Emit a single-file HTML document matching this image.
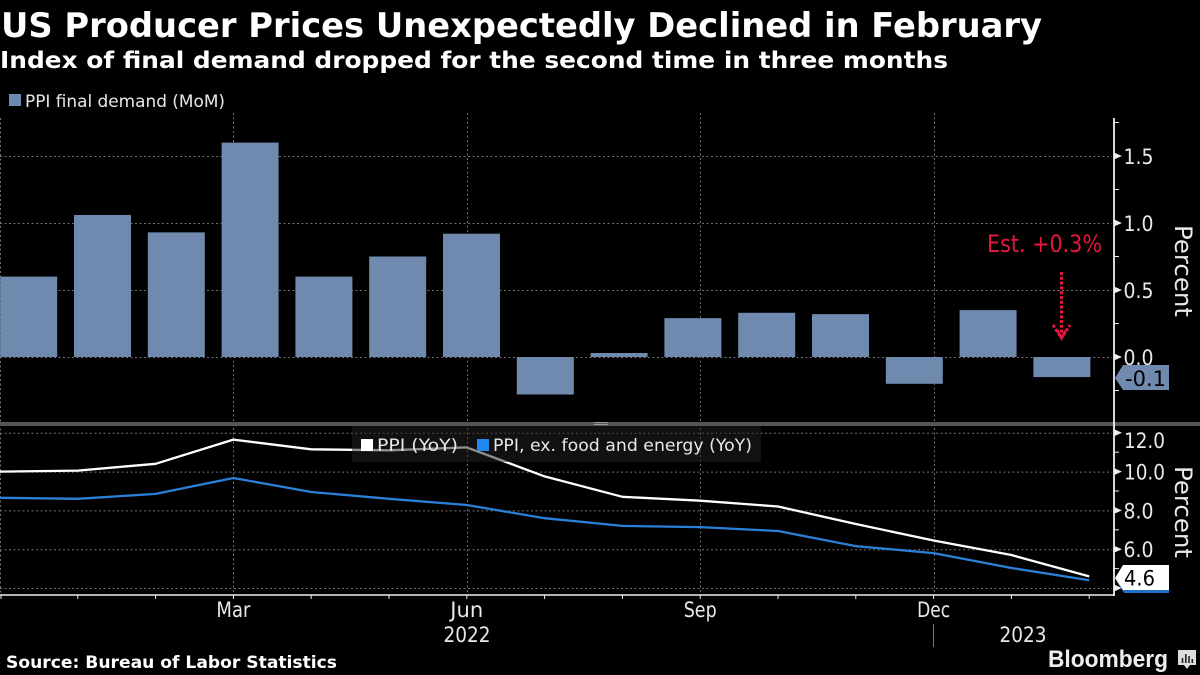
<!DOCTYPE html>
<html>
<head>
<meta charset="utf-8">
<style>
html,body{margin:0;padding:0;background:#000;width:1200px;height:675px;overflow:hidden}
svg{display:block}
text{font-family:"DejaVu Sans","Liberation Sans",sans-serif;fill:#e8e8e8}
</style>
</head>
<body>
<svg id="chart" width="1200" height="675" viewBox="0 0 1200 675" xmlns="http://www.w3.org/2000/svg">
<rect width="1200" height="675" fill="#000"/>
<text x="1" y="37" font-size="34" font-weight="700" style="fill:#fff" textLength="1041" lengthAdjust="spacingAndGlyphs">US Producer Prices Unexpectedly Declined in February</text>
<text x="0" y="68" font-size="23.5" font-weight="700" style="fill:#fff" textLength="948" lengthAdjust="spacingAndGlyphs">Index of final demand dropped for the second time in three months</text>
<rect x="9" y="94" width="12" height="12" fill="#7089ae"/>
<text x="25" y="107" font-size="16.5" textLength="200" lengthAdjust="spacingAndGlyphs">PPI final demand (MoM)</text>
<g id="grid"></g>
<g id="bars"></g>
<g id="lines"></g>
<rect x="0" y="422" width="1200" height="4" fill="#555"/>
<path d="M594 422.5H608M594 424.5H608" stroke="#999" stroke-width="1" fill="none"/>
<rect x="352" y="426" width="409" height="36" fill="rgba(34,34,34,.5)"/>
<rect x="361" y="439" width="12" height="12" fill="#fff"/>
<text x="377" y="451" font-size="16.5" textLength="81" lengthAdjust="spacingAndGlyphs">PPI (YoY)</text>
<rect x="477" y="439" width="12" height="12" fill="#1e88f0"/>
<text x="493" y="451" font-size="16.5" textLength="259" lengthAdjust="spacingAndGlyphs">PPI, ex. food and energy (YoY)</text>
<g id="axes"></g>
<text font-size="24" transform="translate(1175,225) rotate(90)" textLength="92" lengthAdjust="spacingAndGlyphs">Percent</text>
<text font-size="24" transform="translate(1175,466) rotate(90)" textLength="92" lengthAdjust="spacingAndGlyphs">Percent</text>
<path d="M1115 378L1123 365H1169V390H1123Z" fill="#7089ae"/>
<text x="1125" y="386" font-size="21" style="fill:#000" textLength="41" lengthAdjust="spacingAndGlyphs">-0.1</text>
<path d="M1115 579L1124 590H1169V593H1124Z" fill="#1e6fc8"/>
<path d="M1115 578L1123 565H1169V590H1123Z" fill="#fff"/>
<text x="1124" y="585.5" font-size="21" style="fill:#000" textLength="31" lengthAdjust="spacingAndGlyphs">4.6</text>
<text x="987" y="252" font-size="24" style="fill:#e5173f" textLength="115" lengthAdjust="spacingAndGlyphs">Est. +0.3%</text>
<path d="M1061.5 272V338M1053 325L1061.5 338L1070 325M1057 330L1061.5 338L1066 330" stroke="#e5173f" stroke-width="3" stroke-dasharray="3 1.8" fill="none"/>
<text x="6" y="668" font-size="16.5" font-weight="700" style="fill:#fff" textLength="331" lengthAdjust="spacingAndGlyphs">Source: Bureau of Labor Statistics</text>
<text x="1048" y="667" font-size="24" font-weight="700" style="font-family:'Liberation Sans',sans-serif;fill:#eee" textLength="120" lengthAdjust="spacingAndGlyphs">Bloomberg</text>
<g>
<path d="M1178 650H1196V665H1190L1187 669L1184 665H1178Z" fill="#ddd"/>
<path d="M1182.5 663V658M1185.8 663V654M1189 663V656M1192.3 663V659" stroke="#222" stroke-width="1.6" fill="none"/>
</g>
</svg>
<script>
const momCategories = ['Jan 22','Feb 22','Mar 22','Apr 22','May 22','Jun 22','Jul 22','Aug 22','Sep 22','Oct 22','Nov 22','Dec 22','Jan 23','Feb 23'];
const momValues = [0.6,1.06,0.93,1.6,0.6,0.75,0.92,-0.28,0.03,0.29,0.33,0.32,-0.2,0.35,-0.15];
const ppiYoY = [10.0,10.05,10.4,11.65,11.15,11.1,11.25,9.75,8.7,8.5,8.2,7.3,6.45,5.7,4.6];
const coreYoY = [8.65,8.6,8.85,9.67,8.95,8.6,8.28,7.6,7.2,7.14,6.94,6.16,5.8,5.03,4.4];
const topTicks = [0,0.5,1,1.5];
const topTickLabels = ['0.0','0.5','1.0','1.5'];
const bottomTicks = [6,8,10,12];
const bottomTickLabels = ['6.0','8.0','10.0','12.0'];
const monthLabels = ['Mar','Jun','Sep','Dec'];
const monthLabelIndexes = [3,6,9,12];
const yearLabels = ['2022','2023'];

const NS = 'http://www.w3.org/2000/svg';
const AXIS_X = 1114;
const barX = i => 28.7 + 73.8 * i;
const lineX = i => 77.8 * i;
const yTop = v => 357 - 134 * v;
const yBot = v => 588 - 19.4 * (v - 4);

function mk(parent, tag, attrs, text) {
  const el = document.createElementNS(NS, tag);
  for (const k in attrs) el.setAttribute(k, attrs[k]);
  if (text !== undefined) el.textContent = text;
  parent.appendChild(el);
  return el;
}
const grid = document.getElementById('grid');
const bars = document.getElementById('bars');
const lines = document.getElementById('lines');
const axes = document.getElementById('axes');
const gridStyle = {stroke:'#707070','stroke-width':1,'stroke-dasharray':'2 2.5',fill:'none'};

topTicks.forEach(v => {
  const el = mk(grid,'line',Object.assign({x1:0,x2:AXIS_X-2,y1:yTop(v)+.5,y2:yTop(v)+.5},gridStyle));
  
  
});
bottomTicks.concat([4]).forEach(v => {
  const el = mk(grid,'line',Object.assign({x1:0,x2:AXIS_X-2,y1:yBot(v)+.5,y2:yBot(v)+.5},gridStyle));
  
  
});
monthLabelIndexes.forEach(m => {
  const x = Math.round(lineX(m)) + .5;
  const el = mk(grid,'line',Object.assign({x1:x,x2:x,y1:113,y2:595},gridStyle));
  
  
});
{
  const el = mk(grid,'line',Object.assign({x1:.5,x2:.5,y1:118,y2:595},gridStyle));
  
  
}

momValues.forEach((v,i) => {
  const y0 = yTop(0), y1 = yTop(v);
  const el = mk(bars,'rect',{x:barX(i)-28.5,y:Math.min(y0,y1),width:57,height:Math.abs(y1-y0),fill:'#7089ae'});
  
  
});

function drawLine(values,color,name){
  const d = values.map((v,i)=>(i?'L':'M')+lineX(i).toFixed(1)+' '+yBot(v).toFixed(1)).join('');
  const el = mk(lines,'path',{d:d,stroke:color,'stroke-width':2.3,fill:'none','stroke-linejoin':'round'});
  
  
}
drawLine(ppiYoY,'#ffffff','line-ppi-yoy');
drawLine(coreYoY,'#2a80d8','line-core-yoy');

// axes
{
  const el = mk(axes,'line',{x1:AXIS_X,x2:AXIS_X,y1:118,y2:596,stroke:'#eee','stroke-width':1.8});
  
  
  const xa = mk(axes,'line',{x1:0,x2:AXIS_X+1,y1:595,y2:595,stroke:'#eee','stroke-width':1.5});
  
  
}
function majorTick(y){
  const el = mk(axes,'path',{d:`M${AXIS_X} ${y-3.5}L${AXIS_X+8} ${y}L${AXIS_X} ${y+3.5}Z`,fill:'#eee'});
  
  
}
function minorTick(y){
  const el = mk(axes,'line',{x1:AXIS_X,x2:AXIS_X+5,y1:y,y2:y,stroke:'#eee','stroke-width':1});
  
  
}
topTicks.forEach((v,i) => {
  const y = yTop(v);
  majorTick(y);
  const t = mk(axes,'text',{x:1123.5,y:y+8,'font-size':21,textLength:30,lengthAdjust:'spacingAndGlyphs'},topTickLabels[i]);
  
  
  minorTick(yTop(v+0.25));
});
minorTick(yTop(-0.25));
bottomTicks.forEach((v,i) => {
  const y = yBot(v);
  majorTick(y);
  const wide = bottomTickLabels[i].length > 3;
  const labelY = Math.max(y + 8, 448);
  const t = mk(axes,'text',{x:wide?1124:1123.5,y:labelY,'font-size':21,textLength:wide?41:30,lengthAdjust:'spacingAndGlyphs'},bottomTickLabels[i]);
  
  
  minorTick(yBot(v-1));
});
majorTick(yBot(4));

ppiYoY.forEach((v,i) => {
  const x = Math.max(lineX(i),1);
  const el = mk(axes,'line',{x1:x,x2:x,y1:595,y2:599,stroke:'#eee','stroke-width':1});
  
  
});
monthLabels.forEach((m,i) => {
  const t = mk(axes,'text',{x:lineX(monthLabelIndexes[i]),y:617,'font-size':21,'text-anchor':'middle',textLength:m==='Mar'?34:33,lengthAdjust:'spacingAndGlyphs'},m);
  
  
});
[467,1023].forEach((x,i) => {
  const t = mk(axes,'text',{x:x,y:642,'font-size':21,'text-anchor':'middle',textLength:47,lengthAdjust:'spacingAndGlyphs'},yearLabels[i]);
  
  
});
{
  const s = mk(axes,'line',{x1:933.5,x2:933.5,y1:624,y2:647,stroke:'#777','stroke-width':1});
  
  
}
</script>
</body>
</html>
